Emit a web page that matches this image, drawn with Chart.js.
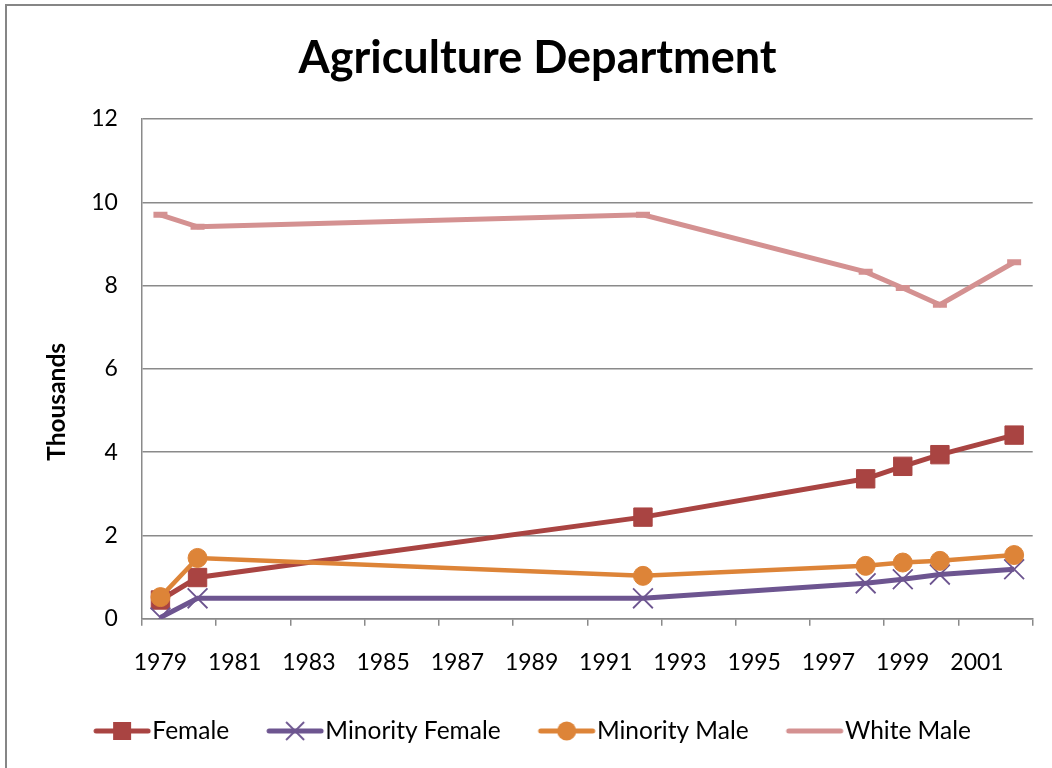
<!DOCTYPE html>
<html>
<head>
<meta charset="utf-8">
<script src="https://cdn.jsdelivr.net/npm/chart.js@4/dist/chart.umd.min.js"></script>
<style>
  html, body { margin: 0; padding: 0; background: #fff; }
  #wrap { position: relative; width: 1052px; height: 768px; overflow: hidden; }
  #frame { position: absolute; left: 5px; top: 4px; width: 1100px; height: 800px; border: 2px solid #868686; box-sizing: border-box; }
  canvas { position: absolute; left: 0; top: 0; }
</style>
</head>
<body>
<div id="wrap">
  <div id="frame"></div>
  <canvas id="chart" width="1052" height="768"></canvas>
</div>
<script>
// Workforce by group, thousands of employees
const years = [1979, 1980, 1992, 1998, 1999, 2000, 2002];
const female = [0.45, 0.99, 2.44, 3.36, 3.66, 3.94, 4.41];
const minorityFemale = [0.03, 0.49, 0.49, 0.85, 0.95, 1.06, 1.19];
const minorityMale = [0.52, 1.46, 1.03, 1.27, 1.35, 1.39, 1.53];
const whiteMale = [9.70, 9.41, 9.70, 8.33, 7.94, 7.54, 8.56];

// x ticks sit on year boundaries, labels on odd years
const xTickPositions = [1978.5, 1980.5, 1982.5, 1984.5, 1986.5, 1988.5, 1990.5, 1992.5, 1994.5, 1996.5, 1998.5, 2000.5, 2002.5];
const xTickLabels = ['1979', '1981', '1983', '1985', '1987', '1989', '1991', '1993', '1995', '1997', '1999', '2001', ''];

const GRID = '#8a8a8a';
const FONT = 'Lato';
const Y_TITLE = 'Thousands';
const Y_TITLE_FONT = 'bold 24.5px Lato';

function points(values) {
  return years.map((y, i) => ({ x: y, y: values[i] }));
}

function legendSample(color, marker) {
  const c = document.createElement('canvas');
  c.width = 60; c.height = 24;
  const g = c.getContext('2d');
  g.strokeStyle = color; g.fillStyle = color;
  g.lineWidth = 5; g.lineCap = 'round';
  g.beginPath(); g.moveTo(4, 12); g.lineTo(56, 12); g.stroke();
  if (marker === 'rect') {
    g.fillRect(21, 3, 18, 18);
  } else if (marker === 'circle') {
    g.beginPath(); g.arc(30, 12, 9.5, 0, Math.PI * 2); g.fill();
  } else if (marker === 'crossRot') {
    g.lineWidth = 1.8; g.lineCap = 'butt';
    g.beginPath();
    g.moveTo(21, 3); g.lineTo(39, 21);
    g.moveTo(39, 3); g.lineTo(21, 21);
    g.stroke();
  }
  return c;
}

const series = [
  { label: 'Female', data: female, color: '#a94442', style: 'rect', radius: 13, width: 5, order: 4 },
  { label: 'Minority Female', data: minorityFemale, color: '#6d5590', style: 'crossRot', radius: 14, width: 5, order: 3 },
  { label: 'Minority Male', data: minorityMale, color: '#dd8438', style: 'circle', radius: 9.5, width: 4.5, order: 2 },
  { label: 'White Male', data: whiteMale, color: '#d49191', style: 'line', radius: 7, width: 5, order: 1 }
];

const datasets = series.map(s => ({
  label: s.label,
  data: points(s.data),
  borderColor: s.color,
  backgroundColor: s.color,
  borderWidth: s.width,
  pointStyle: s.style,
  pointRadius: s.radius,
  pointHoverRadius: s.radius,
  pointBorderWidth: s.style === 'crossRot' ? 1.8 : (s.style === 'line' ? 6 : 1),
  pointBorderColor: s.color,
  pointBackgroundColor: s.color,
  tension: 0,
  order: s.order,
  legendImage: legendSample(s.color, s.style)
}));

// axis title sits a little below the middle of the plot
const yTitlePlugin = {
  id: 'yTitle',
  afterDraw(c) {
    const scale = c.scales.y;
    const ctx = c.ctx;
    const x = scale.left + 14.7;
    const y = (c.chartArea.top + c.chartArea.bottom) / 2 + 33;
    ctx.save();
    ctx.translate(x, y);
    ctx.rotate(-Math.PI / 2);
    ctx.font = Y_TITLE_FONT;
    ctx.fillStyle = '#000';
    ctx.textAlign = 'center';
    ctx.textBaseline = 'middle';
    ctx.fillText(Y_TITLE, 0, 0);
    ctx.restore();
  }
};

const chart = new Chart(document.getElementById('chart'), {
  type: 'line',
  data: { datasets },
  plugins: [yTitlePlugin],
  options: {
    responsive: false,
    animation: false,
    layout: { padding: { left: 42.3, right: 19.3, top: 0, bottom: 14.75 } },
    plugins: {
      title: {
        display: true,
        text: 'Agriculture Department',
        color: '#000',
        font: { family: FONT, size: 45, weight: 'bold' },
        padding: { top: 31, bottom: 34 }
      },
      legend: {
        position: 'bottom',
        labels: {
          color: '#000',
          font: { family: FONT, size: 24.5 },
          usePointStyle: true,
          pointStyleWidth: 36,
          padding: 48,
          generateLabels(c) {
            return c.data.datasets.map((ds, i) => ({
              text: ds.label,
              fontColor: '#000',
              pointStyle: ds.legendImage,
              strokeStyle: ds.borderColor,
              fillStyle: ds.borderColor,
              lineWidth: 0,
              hidden: false,
              datasetIndex: i
            }));
          }
        }
      },
      tooltip: { enabled: false }
    },
    scales: {
      x: {
        type: 'linear',
        min: 1978.5,
        max: 2002.5,
        afterBuildTicks(scale) {
          scale.ticks = xTickPositions.map(v => ({ value: v }));
        },
        afterFit(scale) {
          // labels are shifted into the year slots, so no overhang is needed
          scale.height = 52;
          scale.paddingLeft = 0;
          scale.paddingRight = 0;
        },
        ticks: {
          color: '#000',
          font: { family: FONT, size: 23, lineHeight: 1 },
          padding: 25.5,
          labelOffset: 18.5,
          maxRotation: 0,
          autoSkip: false,
          callback: (v, i) => xTickLabels[i]
        },
        grid: { drawOnChartArea: false, drawTicks: true, tickLength: 7, color: GRID, lineWidth: 1.5 },
        border: { color: GRID, width: 1.5 }
      },
      y: {
        min: 0,
        max: 12,
        ticks: {
          stepSize: 2,
          color: '#000',
          font: { family: FONT, size: 23 },
          padding: 24
        },
        grid: { color: GRID, lineWidth: 1.5, drawTicks: false },
        border: { color: GRID, width: 1.5 },
        title: {
          // reserves the room; the text itself is drawn by yTitlePlugin
          display: true,
          text: Y_TITLE,
          color: 'rgba(0,0,0,0)',
          font: { family: FONT, size: 24.5, weight: 'bold' },
          padding: { top: 0, bottom: -4.5 }
        }
      }
    }
  }
});
</script>
</body>
</html>
